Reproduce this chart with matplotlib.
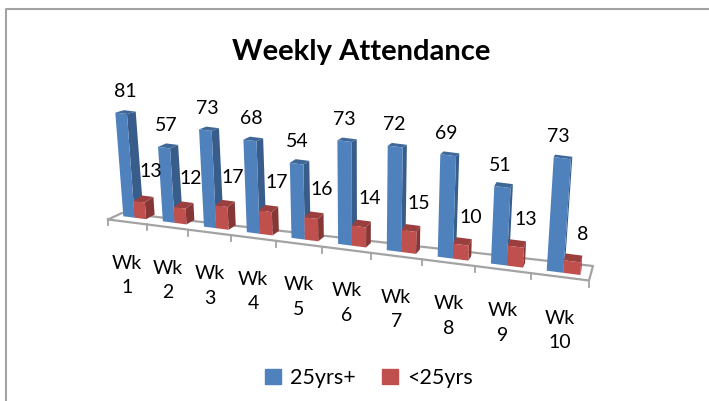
## Weekly attendance chart, 3D look columns drawn on a flat axes
import matplotlib
matplotlib.use("Agg")
import matplotlib.pyplot as plt
from matplotlib.patches import Patch

## Data
weeks = ["Wk\n1", "Wk\n2", "Wk\n3", "Wk\n4", "Wk\n5", "Wk\n6", "Wk\n7", "Wk\n8", "Wk\n9", "Wk\n10"]
older = [81, 57, 73, 68, 54, 73, 72, 69, 51, 73]
younger = [13, 12, 17, 17, 16, 14, 15, 10, 13, 8]
series_names = ["25yrs+", "<25yrs"]

plt.rcParams['font.family'] = ['Lato', 'DejaVu Sans']

BLUE = ["#4f81bd", "#385d8a", "#3f6898"]   # front, side, top
RED = ["#c0504d", "#863735", "#9a3f3d"]
GREY = "#a3a3a3"

## Perspective helpers, t is the position along the category axis (0 to 10)
def scale(t):
    return 1 / (1 - 0.0195 * t)

def axis_x(t):
    return 107.5 + 38.8 * t * scale(t)

def axis_y(x):
    return 219.5 + 0.127 * (x - 108)

def column(ax, t0, t1, value, colors):
    # front bottom corners, moved back from the axis line
    x0 = axis_x(t0)
    x1 = axis_x(t1)
    y0 = axis_y(x0) - 4.5
    y1 = axis_y(x1) - 4.5
    x0 = x0 + (560 - x0) * 0.012
    x1 = x1 + (560 - x1) * 0.012
    h = value * 1.27 * scale((t0 + t1) / 2)
    # tops lean away from the vanishing point
    tx0 = x0 + (x0 - 359) * h / 3040
    tx1 = x1 + (x1 - 359) * h / 3040
    ty0 = y0 - h
    ty1 = y1 - h
    # depth of the column
    dx = (642 - x1) * 0.0172
    dy = -(6 - h * 0.035) * scale(t1)
    ax.fill([x1, tx1, tx1 + dx, x1 + dx], [y1, ty1, ty1 + dy, y1 - 4.5], color=colors[1], lw=0, zorder=3)
    ax.fill([tx0, tx1, tx1 + dx, tx0 + dx], [ty0, ty1, ty1 + dy, ty0 + dy], color=colors[2], lw=0, zorder=3)
    ax.fill([x0, x1, tx1, tx0], [y0, y1, ty1, ty0], color=colors[0], lw=0, zorder=3)
    return (x0 + x1) / 2, (tx0 + tx1) / 2, (ty0 + ty1) / 2

fig = plt.figure(figsize=(7.09, 4.01), dpi=100)
ax = fig.add_axes([0, 0, 1, 1])
ax.set_xlim(0, 709)
ax.set_ylim(401, 0)
ax.axis("off")

## Outer chart border (only top and left show)
ax.plot([5.5, 5.5, 709], [401, 8.5, 8.5], color=GREY, lw=1.5)

ax.text(361, 52, "Weekly Attendance", fontsize=21, fontweight="bold", ha="center", va="center")

## Floor of the plot
ax.plot([108, 122, 593, 589, 108], [219.5, 213, 266, 280.5, 219.5], color=GREY, lw=1.6)
for i in range(len(weeks) + 1):
    x = axis_x(i)
    ax.plot([x, x], [axis_y(x), axis_y(x) + 6], color=GREY, lw=1.3)

## Columns, left to right so the nearer ones sit on top
for i in range(len(weeks)):
    bottom_mid, top_mid, top_y = column(ax, i + 0.27, i + 0.56, older[i], BLUE)
    ax.text((bottom_mid + top_mid) / 2, top_y - 22, str(older[i]), fontsize=14, ha="center", va="center", zorder=4)
    bottom_mid, top_mid, top_y = column(ax, i + 0.56, i + 0.85, younger[i], RED)
    ax.text(bottom_mid + 10.5, top_y - 30 + 0.4 * i, str(younger[i]), fontsize=14, ha="center", va="center", zorder=4)
    x = axis_x(i + 0.5)
    ax.text(x, axis_y(x) + 53.5, weeks[i], fontsize=14, ha="center", va="center", linespacing=1.55)

## Legend
handles = [Patch(color=BLUE[0], label=series_names[0]), Patch(color=RED[0], label=series_names[1])]
ax.legend(handles=handles, loc="center", bbox_to_anchor=(369, 378), bbox_transform=ax.transData,
          ncol=2, frameon=False, fontsize=15.5, handlelength=0.75, handleheight=0.75,
          handletextpad=0.45, columnspacing=1.2)

fig.savefig("out.png", dpi=100)
